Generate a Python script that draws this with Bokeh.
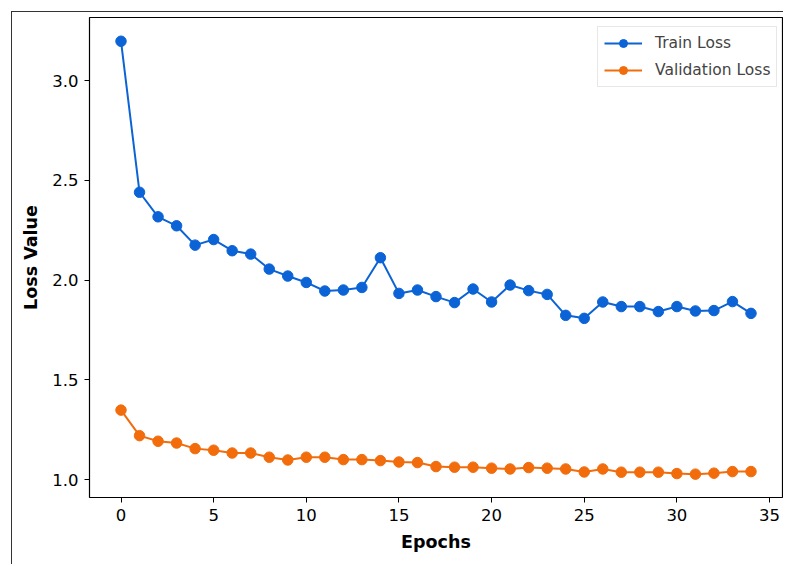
from bokeh.plotting import figure
from bokeh.models import Range1d, Legend, LegendItem, FixedTicker, NumeralTickFormatter
from bokeh.embed import file_html
from bokeh.resources import INLINE

epochs = list(range(35))
train_loss = [3.197, 2.44, 2.317, 2.272, 2.175, 2.203, 2.147, 2.13, 2.055, 2.02,
              1.988, 1.945, 1.95, 1.963, 2.112, 1.933, 1.95, 1.917, 1.887, 1.955,
              1.89, 1.975, 1.947, 1.928, 1.823, 1.808, 1.89, 1.867, 1.867, 1.842,
              1.867, 1.845, 1.847, 1.892, 1.833]
val_loss = [1.348, 1.22, 1.192, 1.183, 1.155, 1.147, 1.133, 1.133, 1.112, 1.098,
            1.112, 1.112, 1.10, 1.10, 1.095, 1.088, 1.085, 1.065, 1.062, 1.062,
            1.057, 1.053, 1.06, 1.057, 1.053, 1.038, 1.053, 1.037, 1.037, 1.037,
            1.03, 1.027, 1.032, 1.04, 1.04]
x_ticks = [0, 5, 10, 15, 20, 25, 30, 35]
y_ticks = [1.0, 1.5, 2.0, 2.5, 3.0]

BLUE = "#0b63d6"
ORANGE = "#f26c0c"
FONT = "DejaVu Sans"

p = figure(width=772, height=553, output_backend="svg", toolbar_location=None,
           x_range=Range1d(-1.7, 35.7), y_range=Range1d(0.91, 3.316),
           min_border_left=77, min_border_right=2, min_border_top=5, min_border_bottom=68)
p.margin = (11, 0, 0, 11)
p.styles = {"border-left": "1.5px solid #333333", "border-top": "1.5px solid #333333"}

p.xgrid.visible = False
p.ygrid.visible = False
p.outline_line_color = "black"
p.outline_line_width = 1.2
p.background_fill_color = "white"
p.border_fill_color = "white"

for ax in (p.xaxis, p.yaxis):
    ax.axis_line_color = None
    ax.major_tick_in = 0
    ax.major_tick_out = 5
    ax.minor_tick_line_color = None
    ax.major_tick_line_color = "black"
    ax.major_label_text_font = FONT
    ax.major_label_text_font_size = "16.5px"
    ax.major_label_text_color = "black"
    ax.axis_label_text_font = FONT
    ax.axis_label_text_font_size = "17.5px"
    ax.axis_label_text_font_style = "bold"
    ax.axis_label_text_color = "black"

p.xaxis.ticker = FixedTicker(ticks=x_ticks)
p.yaxis.ticker = FixedTicker(ticks=y_ticks)
p.yaxis.formatter = NumeralTickFormatter(format="0.0")
p.xaxis.axis_label = "Epochs"
p.yaxis.axis_label = "Loss Value"
p.xaxis.major_label_standoff = 6
p.yaxis.major_label_standoff = 6
p.xaxis.axis_label_standoff = 8
p.yaxis.axis_label_standoff = 8

l1 = p.line(epochs, train_loss, line_color=BLUE, line_width=2)
s1 = p.scatter(epochs, train_loss, size=10.5, fill_color=BLUE, line_color=BLUE)
l2 = p.line(epochs, val_loss, line_color=ORANGE, line_width=2)
s2 = p.scatter(epochs, val_loss, size=10.5, fill_color=ORANGE, line_color=ORANGE)

legend = Legend(items=[LegendItem(label="Train Loss", renderers=[l1, s1]),
                       LegendItem(label="Validation Loss", renderers=[l2, s2])],
                location=(508, 410))
legend.label_text_font = FONT
legend.label_text_font_size = "15.5px"
legend.border_line_color = "#d0d0d0"
legend.border_line_width = 1
legend.background_fill_alpha = 1
legend.glyph_width = 38
legend.glyph_height = 20
legend.label_standoff = 13
legend.padding = 6
legend.spacing = 7
legend.margin = 0
p.add_layout(legend)

open("out.html", "w").write(file_html(p, INLINE))
